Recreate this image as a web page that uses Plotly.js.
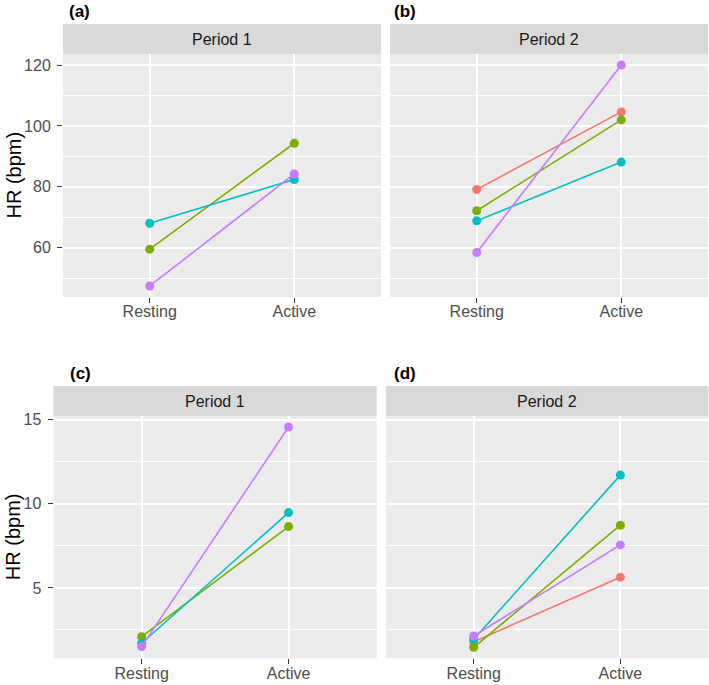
<!DOCTYPE html>
<html>
<head>
<meta charset="utf-8">
<script src="https://cdn.plot.ly/plotly-3.0.1.min.js"></script>
<style>html,body{margin:0;padding:0;background:#fff}#chart{width:709px;height:685px}</style>
</head>
<body>
<div id="chart"></div>
<script>
// ---- data ----
var categories = ['Resting', 'Active'];
var groupNames = ['Group 1', 'Group 2', 'Group 3', 'Group 4'];
var groupColors = ['#F8766D', '#7CAE00', '#00BFC4', '#C77CFF'];

// top row (a, b)
var a_group2 = [59.5, 94.3];
var a_group3 = [68.0, 82.4];
var a_group4 = [47.4, 84.2];
var b_group1 = [79.1, 104.6];
var b_group2 = [72.1, 102.0];
var b_group3 = [68.8, 88.1];
var b_group4 = [58.4, 120.0];
// bottom row (c, d)
var c_group2 = [2.10, 8.65];
var c_group3 = [1.71, 9.48];
var c_group4 = [1.51, 14.57];
var d_group1 = [1.80, 5.64];
var d_group2 = [1.47, 8.73];
var d_group3 = [1.95, 11.71];
var d_group4 = [2.14, 7.56];

var stripLabels = ['Period 1', 'Period 2', 'Period 1', 'Period 2'];
var panelLabels = ['(a)', '(b)', '(c)', '(d)'];
var yTitle = 'HR (bpm)';
var topTicks = [60, 80, 100, 120];
var bottomTicks = [5, 10, 15];

// ---- build ----
var W = 709, H = 685;
var FONT = 'Liberation Sans, Arial, sans-serif';
var panels = [
  {ax: '', series: [[1, a_group2], [2, a_group3], [3, a_group4]], px: [63, 381], py: [54, 297]},
  {ax: '2', series: [[0, b_group1], [1, b_group2], [2, b_group3], [3, b_group4]], px: [390, 708], py: [54, 297]},
  {ax: '3', series: [[1, c_group2], [2, c_group3], [3, c_group4]], px: [53.5, 376.7], py: [416, 658.3]},
  {ax: '4', series: [[0, d_group1], [1, d_group2], [2, d_group3], [3, d_group4]], px: [385.7, 708.4], py: [416, 658.3]}
];

function rangeOf(arrs) {
  var all = [].concat.apply([], arrs);
  var mn = Math.min.apply(null, all), mx = Math.max.apply(null, all);
  var e = 0.05 * (mx - mn);
  return [mn - e, mx + e];
}
var topRange = rangeOf([a_group2, a_group3, a_group4, b_group1, b_group2, b_group3, b_group4]);
var botRange = rangeOf([c_group2, c_group3, c_group4, d_group1, d_group2, d_group3, d_group4]);

var traces = [];
var layout = {
  width: W, height: H,
  margin: {l: 0, r: 0, t: 0, b: 0},
  paper_bgcolor: '#FFFFFF',
  plot_bgcolor: '#EBEBEB',
  showlegend: false,
  font: {family: FONT, color: '#4D4D4D'},
  shapes: [], annotations: []
};

panels.forEach(function (p, i) {
  var xa = 'x' + p.ax, ya = 'y' + p.ax;
  p.series.forEach(function (s) {
    traces.push({
      type: 'scatter', mode: 'lines+markers',
      x: categories, y: s[1], name: groupNames[s[0]],
      xaxis: xa, yaxis: ya,
      line: {color: groupColors[s[0]], width: 1.6},
      marker: {color: groupColors[s[0]], size: 9},
      hoverinfo: 'x+y+name'
    });
  });
  var top = i < 2;
  var left = (i % 2 === 0);
  var xDom = [p.px[0] / W, p.px[1] / W];
  var yDom = [1 - p.py[1] / H, 1 - p.py[0] / H];
  layout['xaxis' + p.ax] = {
    domain: xDom, anchor: ya, type: 'category',
    categoryorder: 'array', categoryarray: categories,
    range: [-0.6, 1.6], showgrid: true, gridcolor: '#FFFFFF', gridwidth: 2,
    zeroline: false, showline: false,
    ticks: 'outside', ticklen: 5, tickwidth: 1.1, tickcolor: '#333333',
    tickfont: {family: FONT, size: 16, color: '#4D4D4D'},
    ticklabelstandoff: -5,
    fixedrange: true
  };
  layout['yaxis' + p.ax] = {
    domain: yDom, anchor: xa,
    range: top ? topRange : botRange,
    tickvals: top ? topTicks : bottomTicks,
    showticklabels: left,
    ticks: left ? 'outside' : '', ticklen: 5, tickwidth: 1.1, tickcolor: '#333333',
    tickfont: {family: FONT, size: 16, color: '#4D4D4D'},
    ticklabelstandoff: 3,
    showgrid: true, gridcolor: '#FFFFFF', gridwidth: 2,
    minor: {dtick: top ? 10 : 2.5, tick0: 0, showgrid: true, gridcolor: '#FFFFFF', gridwidth: 1, ticks: ''},
    zeroline: false, showline: false, fixedrange: true
  };
  // strip
  var sTop = p.py[0] - 30, sBot = p.py[0];
  layout.shapes.push({
    type: 'rect', xref: 'paper', yref: 'paper', layer: 'below',
    x0: xDom[0], x1: xDom[1], y0: 1 - sBot / H, y1: 1 - sTop / H,
    fillcolor: '#D9D9D9', line: {width: 0}
  });
  layout.annotations.push({
    xref: 'paper', yref: 'paper', x: (xDom[0] + xDom[1]) / 2, y: 1 - (sTop + sBot) / 2 / H,
    text: stripLabels[i], showarrow: false, xanchor: 'center', yanchor: 'middle',
    font: {family: FONT, size: 16, color: '#1A1A1A'}
  });
  // panel tag
  layout.annotations.push({
    xref: 'paper', yref: 'paper', x: (left ? (top ? 67 : 68) : 392) / W, y: 1 - (sTop - 12) / H,
    text: '<b>' + panelLabels[i] + '</b>', showarrow: false, xanchor: 'left', yanchor: 'middle',
    font: {family: FONT, size: 17, color: '#000000'}
  });
  // y title
  if (left) {
    layout.annotations.push({
      xref: 'paper', yref: 'paper', x: 13 / W, y: 1 - (p.py[0] + p.py[1]) / 2 / H,
      text: yTitle, showarrow: false, textangle: -90, xanchor: 'center', yanchor: 'middle',
      font: {family: FONT, size: 20, color: '#000000'}
    });
  }
});

Plotly.newPlot('chart', traces, layout, {displayModeBar: false, staticPlot: true});
</script>
</body>
</html>
